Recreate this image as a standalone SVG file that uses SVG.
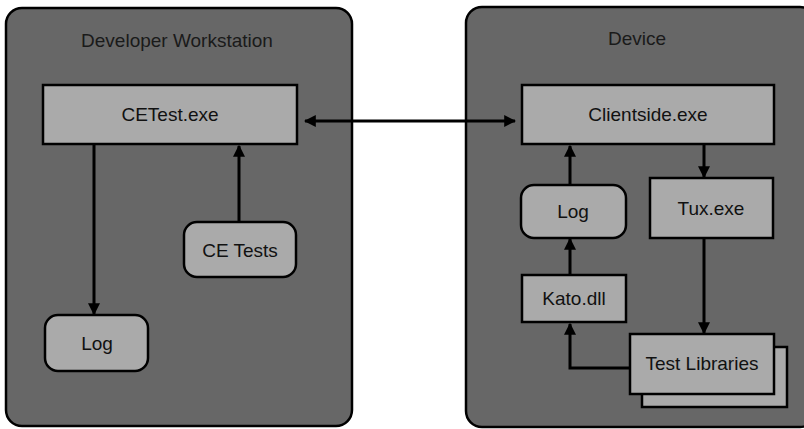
<svg xmlns="http://www.w3.org/2000/svg" width="804" height="429" viewBox="0 0 804 429">
<defs>
<marker id="ah" viewBox="0 0 10 10" refX="9" refY="5" markerWidth="4.2" markerHeight="4" orient="auto-start-reverse" markerUnits="strokeWidth">
<path d="M0,0 L10,5 L0,10 Z" fill="#000"/>
</marker>
</defs>
<style>
.panel{fill:#676767;stroke:#000;stroke-width:2.5}
.box{fill:#aaaaaa;stroke:#000;stroke-width:2.5}
.t{font-family:"Liberation Sans",Arial,sans-serif;font-size:19px;fill:#111;text-anchor:middle}
.title{font-family:"Liberation Sans",Arial,sans-serif;font-size:19px;fill:#1a1a1a;text-anchor:middle}
.c{fill:none;stroke:#000;stroke-width:3;marker-end:url(#ah)}
</style>
<rect width="804" height="429" fill="#fff"/>
<g id="workstation">
<rect class="panel" x="6" y="8" width="346" height="418" rx="16"/>
<text class="title" x="177" y="47">Developer Workstation</text>
</g>
<g id="device">
<rect class="panel" x="466" y="7" width="350" height="420" rx="16"/>
<text class="title" x="637" y="45">Device</text>
</g>
<g id="cetest">
<rect class="box" x="43" y="85" width="254" height="59"/>
<text class="t" x="170" y="121">CETest.exe</text>
</g>
<g id="cetests">
<rect class="box" x="184" y="222" width="112" height="55" rx="13"/>
<text class="t" x="240" y="257">CE Tests</text>
</g>
<g id="log1">
<rect class="box" x="45" y="315" width="103" height="56" rx="13"/>
<text class="t" x="97" y="350">Log</text>
</g>
<g id="clientside">
<rect class="box" x="522" y="85" width="252" height="59"/>
<text class="t" x="648" y="121">Clientside.exe</text>
</g>
<g id="log2">
<rect class="box" x="521" y="185" width="105" height="53" rx="13"/>
<text class="t" x="573" y="218">Log</text>
</g>
<g id="tux">
<rect class="box" x="650" y="178" width="123" height="60"/>
<text class="t" x="711" y="215">Tux.exe</text>
</g>
<g id="kato">
<rect class="box" x="522" y="275" width="104" height="47"/>
<text class="t" x="574" y="305">Kato.dll</text>
</g>
<g id="testlibs">
<rect class="box" x="642" y="347" width="145" height="60"/>
<rect class="box" x="630" y="334" width="144" height="60"/>
<text class="t" x="702" y="370">Test Libraries</text>
</g>
<g id="connectors">
<line class="c" x1="94" y1="144" x2="94" y2="314"/>
<line class="c" x1="239" y1="222" x2="239" y2="146"/>
<line class="c" x1="305" y1="121" x2="515" y2="121" marker-start="url(#ah)"/>
<line class="c" x1="570" y1="185" x2="570" y2="146"/>
<line class="c" x1="704" y1="144" x2="704" y2="177"/>
<line class="c" x1="570" y1="275" x2="570" y2="239"/>
<line class="c" x1="704" y1="238" x2="704" y2="333"/>
<polyline class="c" points="630,368 570,368 570,324"/>
</g>
</svg>
